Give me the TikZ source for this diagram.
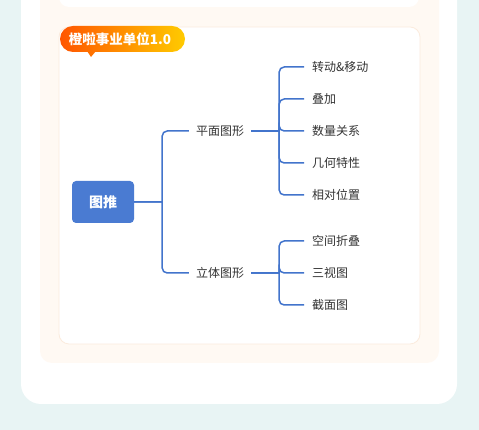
\documentclass[tikz,border=0pt]{standalone}
\usepackage{fontspec}
\setmainfont{Noto Sans CJK SC}
\usepackage{tikz}
\usetikzlibrary{calc}
\definecolor{page_bg}{HTML}{E8F4F4}
\definecolor{panel_bg}{HTML}{FFF9F3}
\definecolor{box_line}{HTML}{FBEBDD}
\definecolor{mind_blue}{HTML}{4274CC}
\definecolor{root_blue}{HTML}{4A7BD2}
\definecolor{mind_text}{HTML}{333333}
\definecolor{badge_left}{HTML}{FF5500}
\definecolor{badge_right}{HTML}{FFCB00}
\tikzstyle{mind_tree} = [grow' = right, level 1/.style = {level distance = 117, sibling distance = 142}, level 2/.style = {level distance = 84, sibling distance = 32}, edge from parent/.style = {draw = mind_blue, line width = 1.5}, edge from parent path = {(\tikzparentnode.east) -- ++(28,0) ($(\tikzparentnode.east) + (28,0)$) [rounded corners = 5] |- (\tikzchildnode.west)}]
\tikzstyle{mind_root} = [rectangle, rounded corners = 4, fill = root_blue, text = white, minimum width = 62, minimum height = 42, inner sep = 0, font = \fontsize{14}{16}\selectfont\bfseries]
\tikzstyle{mind_branch} = [inner xsep = 7, inner ysep = 2, text = mind_text, font = \fontsize{12}{14}\selectfont]
\tikzstyle{mind_leaf} = [anchor = west, inner xsep = 8, inner ysep = 2, text = mind_text, font = \fontsize{12}{14}\selectfont]
\tikzstyle{badge_text} = [text = white, inner sep = 0, font = \fontsize{13.5}{15}\selectfont\bfseries]

\begin{document}
\begin{tikzpicture}[x = 1pt, y = 1pt]
    % page and cards
    \fill[page_bg] (0,0) rectangle (479,430);
    \clip (0,0) rectangle (479,430);
    \fill[white, rounded corners = 20] (21,26) rectangle (457,470);
    \fill[panel_bg, rounded corners = 12] (40,67) rectangle (439,450);
    \fill[white, rounded corners = 10] (59,423) rectangle (419,445);
    \filldraw[fill = white, draw = box_line, line width = 0.8, rounded corners = 10] (59,86) rectangle (420,403);
    % badge
    \shade[left color = badge_left, right color = badge_right] [rounded corners = 13] (60,378) rectangle (185,404) [sharp corners] (87,379) -- (96,379) -- (91,373) -- cycle;
    \node[badge_text] (badge) at (120,391) {橙啦事业单位1.0};
    % mind map
    \begin{scope} [mind_tree]
        \node [mind_root] (root) at (103,228) {图推}
            child {
                node [mind_branch] (plane) {平面图形}
                child { node [mind_leaf] (rotate) {转动\&移动} }
                child { node [mind_leaf] (overlay) {叠加} }
                child { node [mind_leaf] (count) {数量关系} }
                child { node [mind_leaf] (geometry) {几何特性} }
                child { node [mind_leaf] (relative) {相对位置} }
            }
            child {
                node [mind_branch] (solid) {立体图形}
                child { node [mind_leaf] (folding) {空间折叠} }
                child { node [mind_leaf] (threeview) {三视图} }
                child { node [mind_leaf] (section) {截面图} }
            };
    \end{scope}
\end{tikzpicture}
\end{document}
